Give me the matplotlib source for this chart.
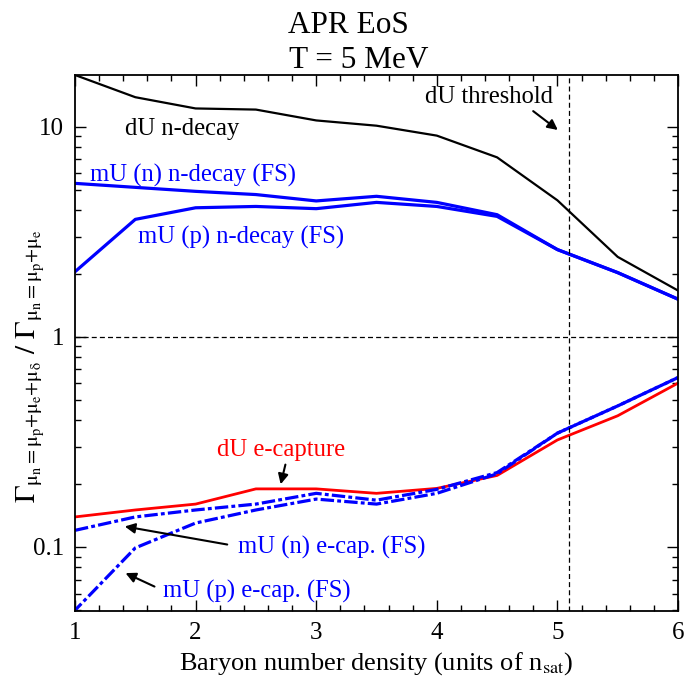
import matplotlib
matplotlib.use("Agg")
import matplotlib.pyplot as plt
import numpy as np
from matplotlib.ticker import FixedLocator, MultipleLocator, LogLocator, NullFormatter

plt.rcParams["font.family"] = ["Liberation Serif", "DejaVu Serif"]
plt.rcParams["mathtext.fontset"] = "stix"

# baryon density in units of n_sat
density = [1.0, 1.5, 2.0, 2.5, 3.0, 3.5, 4.0, 4.5, 5.0, 5.5, 6.0]

# rate ratios, neutron decay branch
du_ndecay   = [17.6, 13.8, 12.2, 12.05, 10.7, 10.1, 9.06, 7.14, 4.46, 2.40, 1.66]
mun_ndecay  = [5.37, 5.14, 4.92, 4.75, 4.43, 4.66, 4.36, 3.81, 2.60, 2.02, 1.51]
mup_ndecay  = [2.04, 3.62, 4.11, 4.17, 4.07, 4.36, 4.17, 3.74, 2.60, 2.02, 1.51]

# rate ratios, electron capture branch
du_ecap     = [0.139, 0.150, 0.160, 0.189, 0.189, 0.180, 0.190, 0.219, 0.323, 0.421, 0.602]
mun_ecap    = [0.120, 0.139, 0.150, 0.160, 0.180, 0.167, 0.188, 0.226, 0.348, 0.469, 0.640]
mup_ecap    = [0.050, 0.099, 0.130, 0.150, 0.169, 0.160, 0.180, 0.223, 0.348, 0.469, 0.640]

du_threshold = 5.1

W, H = 685, 677
fig = plt.figure(figsize=(W / 100, H / 100), dpi=100)
ax = fig.add_axes([75 / W, 1 - 611 / H, 603 / W, 536 / H])
ax.set_yscale("log")
ax.set_xlim(1, 6)
ax.set_ylim(0.0496, 17.6)

blue = "#0000ff"
red = "#ff0000"
lw_blue = 2.3
dashdot = [4.2, 1.0, 1.2, 1.0]


def path_len_pts(xs, ys, upto):
    # on-screen length (points) of a polyline up to a given vertex
    pts = ax.transData.transform(np.column_stack([xs[:upto + 1], ys[:upto + 1]]))
    return np.hypot(*np.diff(pts, axis=0).T).sum() * 72 / fig.dpi


# the two e-capture curves coincide from 4.5 on; shift the phase of one
# pattern so the dashes of each fill the gaps of the other there
period = sum(dashdot) * lw_blue
merge = density.index(4.5)
phase_n = path_len_pts(density, mun_ecap, merge) % period
phase_p = path_len_pts(density, mup_ecap, merge) % period
offset = ((phase_n - phase_p - 8.5) % period) / lw_blue

ax.plot(density, du_ndecay, color="black", lw=1.6)
ax.plot(density, mun_ndecay, color=blue, lw=lw_blue)
ax.plot(density, mup_ndecay, color=blue, lw=lw_blue)
ax.plot(density, du_ecap, color=red, lw=2.0)
ax.plot(density, mun_ecap, color=blue, lw=lw_blue, linestyle=(0, dashdot))
ax.plot(density, mup_ecap, color=blue, lw=lw_blue, linestyle=(offset, dashdot))

ax.axhline(1.0, color="black", lw=0.9, dashes=[4, 2.5])
ax.axvline(du_threshold, color="black", lw=0.9, dashes=[4, 2.5])

ax.xaxis.set_major_locator(MultipleLocator(1))
ax.xaxis.set_minor_locator(MultipleLocator(0.2))
ax.yaxis.set_major_locator(FixedLocator([0.1, 1, 10]))
ax.yaxis.set_minor_locator(LogLocator(base=10, subs=range(2, 10)))
ax.yaxis.set_minor_formatter(NullFormatter())
ax.set_yticklabels(["0.1", "1", "10"])

ax.tick_params(which="both", direction="in", top=True, right=True, labelsize=18, width=1.0)
ax.tick_params(which="major", length=8, pad=8)
ax.tick_params(which="minor", length=4)
for sp in ax.spines.values():
    sp.set_linewidth(1.3)

ax.set_xlabel(r"Baryon number density (units of n$_{\mathrm{sat}}$)", fontsize=19, labelpad=4)
# ratio label on the left, placed in figure pixels
fig.text(31 / W, 1 - 366 / H,
         r"$\Gamma_{\mathrm{\mu_n=\mu_p{+}\mu_e{+}\mu_\delta}}\ /\ \Gamma_{\mathrm{\mu_n=\mu_p{+}\mu_e}}$",
         fontsize=21, rotation=90, ha="center", va="center")

fig.text(348 / W, 1 - 33 / H, "APR EoS", fontsize=22.5, ha="center", va="baseline")
fig.text(359 / W, 1 - 68 / H, "T = 5 MeV", fontsize=22.5, ha="center", va="baseline")

fs = 17.7
arrow = dict(arrowstyle="-|>", color="black", lw=1.5, mutation_scale=15)
ax.text(1.415, 9.16, "dU n-decay", color="black", fontsize=fs, va="baseline")
ax.text(1.124, 5.49, "mU (n) n-decay (FS)", color=blue, fontsize=fs, va="baseline")
ax.text(1.522, 2.79, "mU (p) n-decay (FS)", color=blue, fontsize=fs, va="baseline")
ax.text(3.902, 12.96, "dU threshold", color="black", fontsize=fs, va="baseline")
ax.annotate("", xy=(5.022, 9.46), xytext=(4.781, 12.07), arrowprops=arrow)

ax.text(2.177, 0.271, "dU e-capture", color=red, fontsize=fs, va="baseline")
ax.annotate("", xy=(2.700, 0.193), xytext=(2.750, 0.254), arrowprops=arrow)
ax.text(2.352, 0.0927, "mU (n) e-cap. (FS)", color=blue, fontsize=fs, va="baseline")
ax.annotate("", xy=(1.390, 0.1259), xytext=(2.285, 0.1022), arrowprops=arrow)
ax.text(1.730, 0.0572, "mU (p) e-cap. (FS)", color=blue, fontsize=fs, va="baseline")
ax.annotate("", xy=(1.398, 0.0761), xytext=(1.680, 0.0640), arrowprops=arrow)

fig.savefig("out.png", dpi=100)
